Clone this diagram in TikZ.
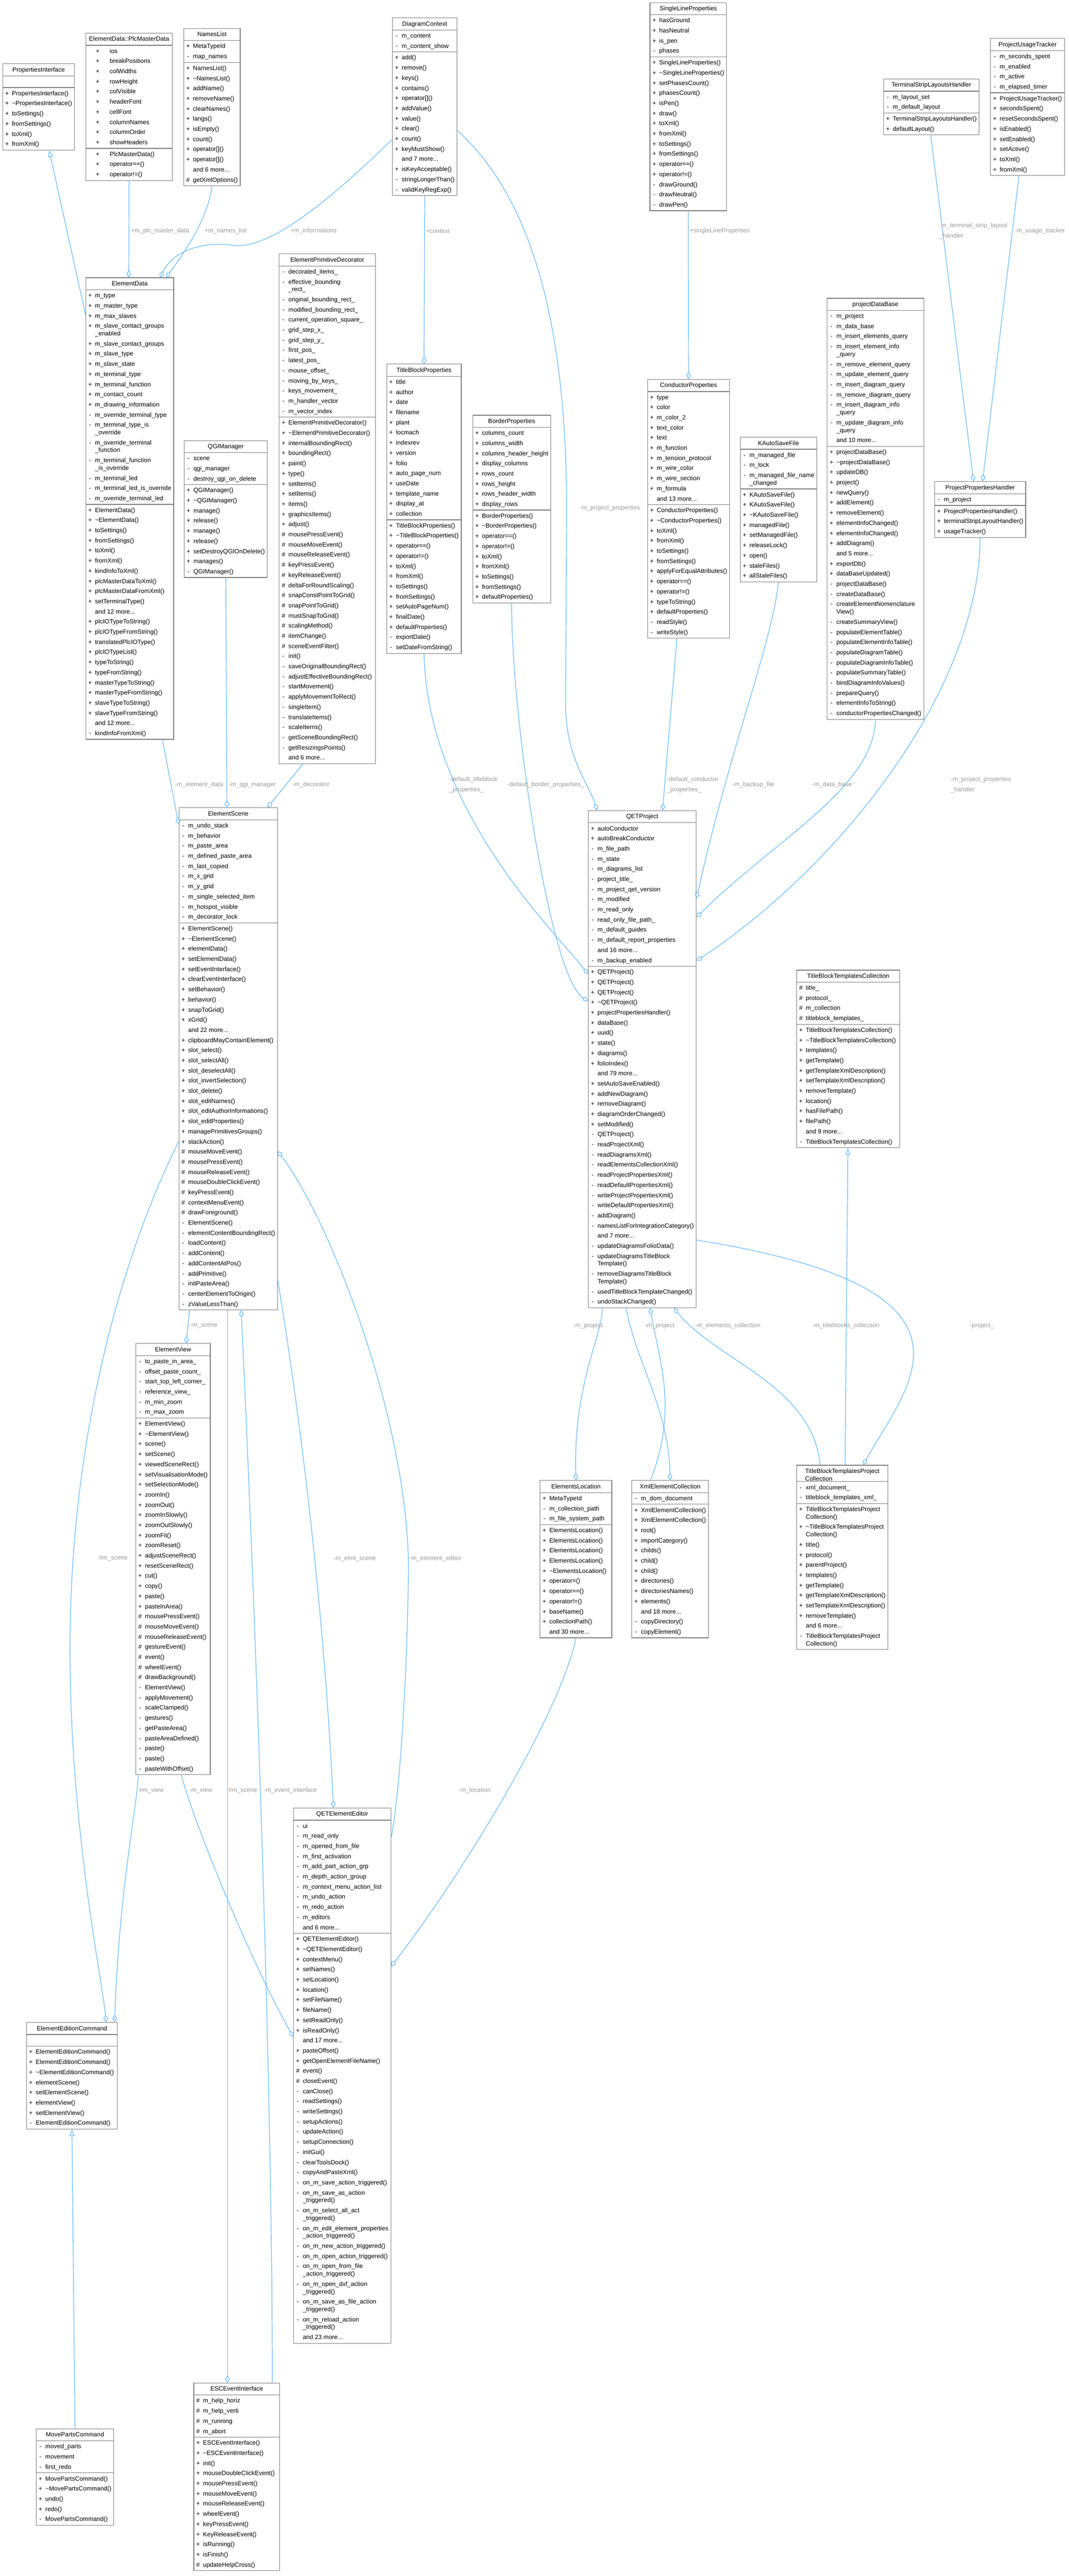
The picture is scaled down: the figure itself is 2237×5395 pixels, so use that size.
\documentclass[tikz,border=0pt]{standalone}
\usepackage{fontspec}
\setmainfont{Liberation Sans}
\usetikzlibrary{shapes.multipart,arrows.meta,positioning}
\definecolor{edgeblue}{HTML}{63B8FF}
\definecolor{framegray}{HTML}{7F7F7F}
\definecolor{labelgray}{HTML}{9A9A9A}
\definecolor{focusgray}{HTML}{999999}
\newcommand{\rowstrut}{\rule[-6.5pt]{0pt}{21.25pt}}
\newcommand{\headstrut}{\rule[-7pt]{0pt}{22pt}}
\newcommand{\mbr}[2]{\makebox[14.3pt][l]{\makebox[8pt][c]{#1}}#2\rowstrut}
\newcommand{\pub}[1]{\mbr{+}{#1}}
\newcommand{\pri}[1]{\mbr{-}{#1}}
\newcommand{\pro}[1]{\mbr{\#}{#1}}
\newcommand{\more}[1]{\mbr{}{and #1 more...}}
\newcommand{\wrap}[1]{\\[-5.35pt]\mbr{}{#1}}
\newcommand{\wpub}[1]{\hspace*{16pt}\makebox[29pt][l]{+}#1\rowstrut}
\newcommand{\tl}{\textasciitilde}
\tikzset{
  classbox/.style={
    rectangle split, rectangle split parts=3,
    rectangle split part align={center,left,left},
    draw=framegray, line width=1.3pt, fill=white,
    align=left, inner xsep=5pt, inner ysep=1pt,
    anchor=north west,
    font=\fontsize{13}{21.25}\selectfont},
  focusbox/.style={classbox, rectangle split part fill={focusgray,white,white}},
  aggr/.style={draw=edgeblue, line width=1.3pt,
    {Diamond[open,length=15pt,width=10pt]}-},
  inherit/.style={draw=edgeblue, line width=1.3pt,
    -{Triangle[open,length=14pt,width=10pt]}},
  elabel/.style={text=labelgray, anchor=west, inner sep=0pt,
    font=\fontsize{13}{21.25}\selectfont, align=left},
}
\begin{document}
\begin{tikzpicture}[x=1pt,y=-1pt]
\useasboundingbox (0,0) rectangle (2237,5395);

% first rank
\node[classbox,minimum width=150pt] (pi) at (5,133) {\headstrut PropertiesInterface
  \nodepart{two}\rowstrut
  \nodepart{three}\pub{PropertiesInterface()}\\\pub{\tl PropertiesInterface()}\\\pub{toSettings()}\\\pub{fromSettings()}\\\pub{toXml()}\\\pub{fromXml()}};
\node[classbox,minimum width=181pt] (pmd) at (179,69) {\headstrut ElementData::PlcMasterData
  \nodepart{two}\wpub{ios}\\\wpub{breakPositions}\\\wpub{colWidths}\\\wpub{rowHeight}\\\wpub{colVisible}\\\wpub{headerFont}\\\wpub{cellFont}\\\wpub{columnNames}\\\wpub{columnOrder}\\\wpub{showHeaders}
  \nodepart{three}\wpub{PlcMasterData()}\\\wpub{operator==()}\\\wpub{operator!=()}};
\node[classbox,minimum width=118pt] (nl) at (384,59) {\headstrut NamesList
  \nodepart{two}\pub{MetaTypeId}\\\pri{map\_names}
  \nodepart{three}\pub{NamesList()}\\\pub{\tl NamesList()}\\\pub{addName()}\\\pub{removeName()}\\\pub{clearNames()}\\\pub{langs()}\\\pub{isEmpty()}\\\pub{count()}\\\pub{operator[]()}\\\pub{operator[]()}\\\more{6}\\\pro{getXmlOptions()}};
\node[classbox,minimum width=132pt] (dc) at (821,37) {\headstrut DiagramContext
  \nodepart{two}\pri{m\_content}\\\pri{m\_content\_show}
  \nodepart{three}\pub{add()}\\\pub{remove()}\\\pub{keys()}\\\pub{contains()}\\\pub{operator[]()}\\\pub{addValue()}\\\pub{value()}\\\pub{clear()}\\\pub{count()}\\\pub{keyMustShow()}\\\more{7}\\\pub{isKeyAcceptable()}\\\pri{stringLongerThan()}\\\pri{validKeyRegExp()}};
\node[classbox,minimum width=160pt] (slp) at (1360,5) {\headstrut SingleLineProperties
  \nodepart{two}\pub{hasGround}\\\pub{hasNeutral}\\\pub{is\_pen}\\\pri{phases}
  \nodepart{three}\pub{SingleLineProperties()}\\\pub{\tl SingleLineProperties()}\\\pub{setPhasesCount()}\\\pub{phasesCount()}\\\pub{isPen()}\\\pub{draw()}\\\pub{toXml()}\\\pub{fromXml()}\\\pub{toSettings()}\\\pub{fromSettings()}\\\pub{operator==()}\\\pub{operator!=()}\\\pri{drawGround()}\\\pri{drawNeutral()}\\\pri{drawPen()}};
\node[classbox,minimum width=199pt] (tslh) at (1849,165) {\headstrut TerminalStripLayoutsHandler
  \nodepart{two}\pri{m\_layout\_set}\\\pri{m\_default\_layout}
  \nodepart{three}\pub{TerminalStripLayoutsHandler()}\\\pub{defaultLayout()}};
\node[classbox,minimum width=155pt] (put) at (2073,80) {\headstrut ProjectUsageTracker
  \nodepart{two}\pri{m\_seconds\_spent}\\\pri{m\_enabled}\\\pri{m\_active}\\\pri{m\_elapsed\_timer}
  \nodepart{three}\pub{ProjectUsageTracker()}\\\pub{secondsSpent()}\\\pub{resetSecondsSpent()}\\\pub{isEnabled()}\\\pub{setEnabled()}\\\pub{setActive()}\\\pub{toXml()}\\\pub{fromXml()}};

% second rank
\node[classbox,minimum width=182pt] (ed) at (179,581) {\headstrut ElementData
  \nodepart{two}\pub{m\_type}\\\pub{m\_master\_type}\\\pub{m\_max\_slaves}\\\pub{m\_slave\_contact\_groups}\wrap{\_enabled}\\\pub{m\_slave\_contact\_groups}\\\pub{m\_slave\_type}\\\pub{m\_slave\_state}\\\pub{m\_terminal\_type}\\\pub{m\_terminal\_function}\\\pub{m\_contact\_count}\\\pub{m\_drawing\_information}\\\pri{m\_override\_terminal\_type}\\\pri{m\_terminal\_type\_is}\wrap{\_override}\\\pri{m\_override\_terminal}\wrap{\_function}\\\pri{m\_terminal\_function}\wrap{\_is\_override}\\\pri{m\_terminal\_led}\\\pri{m\_terminal\_led\_is\_override}\\\pri{m\_override\_terminal\_led}
  \nodepart{three}\pub{ElementData()}\\\pub{\tl ElementData()}\\\pub{toSettings()}\\\pub{fromSettings()}\\\pub{toXml()}\\\pub{fromXml()}\\\pub{kindInfoToXml()}\\\pub{plcMasterDataToXml()}\\\pub{plcMasterDataFromXml()}\\\pub{setTerminalType()}\\\more{12}\\\pub{plcIOTypeToString()}\\\pub{plcIOTypeFromString()}\\\pub{translatedPlcIOType()}\\\pub{plcIOTypeList()}\\\pub{typeToString()}\\\pub{typeFromString()}\\\pub{masterTypeToString()}\\\pub{masterTypeFromString()}\\\pub{slaveTypeToString()}\\\pub{slaveTypeFromString()}\\\more{12}\\\pri{kindInfoFromXml()}};
\node[classbox,minimum width=201pt] (epd) at (584,531) {\headstrut ElementPrimitiveDecorator
  \nodepart{two}\pri{decorated\_items\_}\\\pri{effective\_bounding}\wrap{\_rect\_}\\\pri{original\_bounding\_rect\_}\\\pri{modified\_bounding\_rect\_}\\\pri{current\_operation\_square\_}\\\pri{grid\_step\_x\_}\\\pri{grid\_step\_y\_}\\\pri{first\_pos\_}\\\pri{latest\_pos\_}\\\pri{mouse\_offset\_}\\\pri{moving\_by\_keys\_}\\\pri{keys\_movement\_}\\\pri{m\_handler\_vector}\\\pri{m\_vector\_index}
  \nodepart{three}\pub{ElementPrimitiveDecorator()}\\\pub{\tl ElementPrimitiveDecorator()}\\\pub{internalBoundingRect()}\\\pub{boundingRect()}\\\pub{paint()}\\\pub{type()}\\\pub{setItems()}\\\pub{setItems()}\\\pub{items()}\\\pub{graphicsItems()}\\\pub{adjust()}\\\pro{mousePressEvent()}\\\pro{mouseMoveEvent()}\\\pro{mouseReleaseEvent()}\\\pro{keyPressEvent()}\\\pro{keyReleaseEvent()}\\\pro{deltaForRoundScaling()}\\\pro{snapConstPointToGrid()}\\\pro{snapPointToGrid()}\\\pro{mustSnapToGrid()}\\\pro{scalingMethod()}\\\pro{itemChange()}\\\pro{sceneEventFilter()}\\\pri{init()}\\\pri{saveOriginalBoundingRect()}\\\pri{adjustEffectiveBoundingRect()}\\\pri{startMovement()}\\\pri{applyMovementToRect()}\\\pri{singleItem()}\\\pri{translateItems()}\\\pri{scaleItems()}\\\pri{getSceneBoundingRect()}\\\pri{getResizingsPoints()}\\\more{6}};
\node[classbox,minimum width=174pt] (qgim) at (385,922) {\headstrut QGIManager
  \nodepart{two}\pri{scene}\\\pri{qgi\_manager}\\\pri{destroy\_qgi\_on\_delete}
  \nodepart{three}\pub{QGIManager()}\\\pub{\tl QGIManager()}\\\pub{manage()}\\\pub{release()}\\\pub{manage()}\\\pub{release()}\\\pub{setDestroyQGIOnDelete()}\\\pub{manages()}\\\pri{QGIManager()}};
\node[classbox,minimum width=156pt] (tbp) at (809,762) {\headstrut TitleBlockProperties
  \nodepart{two}\pub{title}\\\pub{author}\\\pub{date}\\\pub{filename}\\\pub{plant}\\\pub{locmach}\\\pub{indexrev}\\\pub{version}\\\pub{folio}\\\pub{auto\_page\_num}\\\pub{useDate}\\\pub{template\_name}\\\pub{display\_at}\\\pub{collection}
  \nodepart{three}\pub{TitleBlockProperties()}\\\pub{\tl TitleBlockProperties()}\\\pub{operator==()}\\\pub{operator!=()}\\\pub{toXml()}\\\pub{fromXml()}\\\pub{toSettings()}\\\pub{fromSettings()}\\\pub{setAutoPageNum()}\\\pub{finalDate()}\\\pub{defaultProperties()}\\\pri{exportDate()}\\\pri{setDateFromString()}};
\node[classbox,minimum width=161pt] (bp) at (989,869) {\headstrut BorderProperties
  \nodepart{two}\pub{columns\_count}\\\pub{columns\_width}\\\pub{columns\_header\_height}\\\pub{display\_columns}\\\pub{rows\_count}\\\pub{rows\_height}\\\pub{rows\_header\_width}\\\pub{display\_rows}
  \nodepart{three}\pub{BorderProperties()}\\\pub{\tl BorderProperties()}\\\pub{operator==()}\\\pub{operator!=()}\\\pub{toXml()}\\\pub{fromXml()}\\\pub{toSettings()}\\\pub{fromSettings()}\\\pub{defaultProperties()}};
\node[classbox,minimum width=171pt] (cp) at (1355,794) {\headstrut ConductorProperties
  \nodepart{two}\pub{type}\\\pub{color}\\\pub{m\_color\_2}\\\pub{text\_color}\\\pub{text}\\\pub{m\_function}\\\pub{m\_tension\_protocol}\\\pub{m\_wire\_color}\\\pub{m\_wire\_section}\\\pub{m\_formula}\\\more{13}
  \nodepart{three}\pub{ConductorProperties()}\\\pub{\tl ConductorProperties()}\\\pub{toXml()}\\\pub{fromXml()}\\\pub{toSettings()}\\\pub{fromSettings()}\\\pub{applyForEqualAttributes()}\\\pub{operator==()}\\\pub{operator!=()}\\\pub{typeToString()}\\\pub{defaultProperties()}\\\pri{readStyle()}\\\pri{writeStyle()}};
\node[classbox,minimum width=157pt] (kasf) at (1549,915) {\headstrut KAutoSaveFile
  \nodepart{two}\pri{m\_managed\_file}\\\pri{m\_lock}\\\pri{m\_managed\_file\_name}\wrap{\_changed}
  \nodepart{three}\pub{KAutoSaveFile()}\\\pub{KAutoSaveFile()}\\\pub{\tl KAutoSaveFile()}\\\pub{managedFile()}\\\pub{setManagedFile()}\\\pub{releaseLock()}\\\pub{open()}\\\pub{staleFiles()}\\\pub{allStaleFiles()}};
\node[classbox,minimum width=200pt] (pdb) at (1731,624) {\headstrut projectDataBase
  \nodepart{two}\pri{m\_project}\\\pri{m\_data\_base}\\\pri{m\_insert\_elements\_query}\\\pri{m\_insert\_element\_info}\wrap{\_query}\\\pri{m\_remove\_element\_query}\\\pri{m\_update\_element\_query}\\\pri{m\_insert\_diagram\_query}\\\pri{m\_remove\_diagram\_query}\\\pri{m\_insert\_diagram\_info}\wrap{\_query}\\\pri{m\_update\_diagram\_info}\wrap{\_query}\\\more{10}
  \nodepart{three}\pub{projectDataBase()}\\\pub{\tl projectDataBase()}\\\pub{updateDB()}\\\pub{project()}\\\pub{newQuery()}\\\pub{addElement()}\\\pub{removeElement()}\\\pub{elementInfoChanged()}\\\pub{elementInfoChanged()}\\\pub{addDiagram()}\\\more{5}\\\pub{exportDb()}\\\pub{dataBaseUpdated()}\\\pri{projectDataBase()}\\\pri{createDataBase()}\\\pri{createElementNomenclature}\wrap{View()}\\\pri{createSummaryView()}\\\pri{populateElementTable()}\\\pri{populateElementInfoTable()}\\\pri{populateDiagramTable()}\\\pri{populateDiagramInfoTable()}\\\pri{populateSummaryTable()}\\\pri{bindDiagramInfoValues()}\\\pri{prepareQuery()}\\\pri{elementInfoToString()}\\\pri{conductorPropertiesChanged()}};
\node[classbox,minimum width=189pt] (pph) at (1956,1008) {\headstrut ProjectPropertiesHandler
  \nodepart{two}\pri{m\_project}
  \nodepart{three}\pub{ProjectPropertiesHandler()}\\\pub{terminalStripLayoutHandler()}\\\pub{usageTracker()}};

% third rank
\node[classbox,minimum width=223pt] (qp) at (1231,1697) {\headstrut QETProject
  \nodepart{two}\pub{autoConductor}\\\pub{autoBreakConductor}\\\pri{m\_file\_path}\\\pri{m\_state}\\\pri{m\_diagrams\_list}\\\pri{project\_title\_}\\\pri{m\_project\_qet\_version}\\\pri{m\_modified}\\\pri{m\_read\_only}\\\pri{read\_only\_file\_path\_}\\\pri{m\_default\_guides}\\\pri{m\_default\_report\_properties}\\\more{16}\\\pri{m\_backup\_enabled}
  \nodepart{three}\pub{QETProject()}\\\pub{QETProject()}\\\pub{QETProject()}\\\pub{\tl QETProject()}\\\pub{projectPropertiesHandler()}\\\pub{dataBase()}\\\pub{uuid()}\\\pub{state()}\\\pub{diagrams()}\\\pub{folioIndex()}\\\more{79}\\\pub{setAutoSaveEnabled()}\\\pub{addNewDiagram()}\\\pub{removeDiagram()}\\\pub{diagramOrderChanged()}\\\pub{setModified()}\\\pri{QETProject()}\\\pri{readProjectXml()}\\\pri{readDiagramsXml()}\\\pri{readElementsCollectionXml()}\\\pri{readProjectPropertiesXml()}\\\pri{readDefaultPropertiesXml()}\\\pri{writeProjectPropertiesXml()}\\\pri{writeDefaultPropertiesXml()}\\\pri{addDiagram()}\\\pri{namesListForIntegrationCategory()}\\\more{7}\\\pri{updateDiagramsFolioData()}\\\pri{updateDiagramsTitleBlock}\wrap{Template()}\\\pri{removeDiagramsTitleBlock}\wrap{Template()}\\\pri{usedTitleBlockTemplateChanged()}\\\pri{undoStackChanged()}};
\node[classbox,minimum width=216pt] (tbtc) at (1667,2031) {\headstrut TitleBlockTemplatesCollection
  \nodepart{two}\pro{title\_}\\\pro{protocol\_}\\\pro{m\_collection}\\\pro{titleblock\_templates\_}
  \nodepart{three}\pub{TitleBlockTemplatesCollection()}\\\pub{\tl TitleBlockTemplatesCollection()}\\\pub{templates()}\\\pub{getTemplate()}\\\pub{getTemplateXmlDescription()}\\\pub{setTemplateXmlDescription()}\\\pub{removeTemplate()}\\\pub{location()}\\\pub{hasFilePath()}\\\pub{filePath()}\\\more{9}\\\pri{TitleBlockTemplatesCollection()}};
\node[classbox,minimum width=206pt] (es) at (374,1691) {\headstrut ElementScene
  \nodepart{two}\pri{m\_undo\_stack}\\\pri{m\_behavior}\\\pri{m\_paste\_area}\\\pri{m\_defined\_paste\_area}\\\pri{m\_last\_copied}\\\pri{m\_x\_grid}\\\pri{m\_y\_grid}\\\pri{m\_single\_selected\_item}\\\pri{m\_hotspot\_visible}\\\pri{m\_decorator\_lock}
  \nodepart{three}\pub{ElementScene()}\\\pub{\tl ElementScene()}\\\pub{elementData()}\\\pub{setElementData()}\\\pub{setEventInterface()}\\\pub{clearEventInterface()}\\\pub{setBehavior()}\\\pub{behavior()}\\\pub{snapToGrid()}\\\pub{xGrid()}\\\more{22}\\\pub{clipboardMayContainElement()}\\\pub{slot\_select()}\\\pub{slot\_selectAll()}\\\pub{slot\_deselectAll()}\\\pub{slot\_invertSelection()}\\\pub{slot\_delete()}\\\pub{slot\_editNames()}\\\pub{slot\_editAuthorInformations()}\\\pub{slot\_editProperties()}\\\pub{managePrimitivesGroups()}\\\pub{stackAction()}\\\pro{mouseMoveEvent()}\\\pro{mousePressEvent()}\\\pro{mouseReleaseEvent()}\\\pro{mouseDoubleClickEvent()}\\\pro{keyPressEvent()}\\\pro{contextMenuEvent()}\\\pro{drawForeground()}\\\pri{ElementScene()}\\\pri{elementContentBoundingRect()}\\\pri{loadContent()}\\\pri{addContent()}\\\pri{addContentAtPos()}\\\pri{addPrimitive()}\\\pri{initPasteArea()}\\\pri{centerElementToOrigin()}\\\pri{zValueLessThan()}};

% fourth rank
\node[classbox,minimum width=156pt] (ev) at (283.6,2813) {\headstrut ElementView
  \nodepart{two}\pri{to\_paste\_in\_area\_}\\\pri{offset\_paste\_count\_}\\\pri{start\_top\_left\_corner\_}\\\pri{reference\_view\_}\\\pri{m\_min\_zoom}\\\pri{m\_max\_zoom}
  \nodepart{three}\pub{ElementView()}\\\pub{\tl ElementView()}\\\pub{scene()}\\\pub{setScene()}\\\pub{viewedSceneRect()}\\\pub{setVisualisationMode()}\\\pub{setSelectionMode()}\\\pub{zoomIn()}\\\pub{zoomOut()}\\\pub{zoomInSlowly()}\\\pub{zoomOutSlowly()}\\\pub{zoomFit()}\\\pub{zoomReset()}\\\pub{adjustSceneRect()}\\\pub{resetSceneRect()}\\\pub{cut()}\\\pub{copy()}\\\pub{paste()}\\\pub{pasteInArea()}\\\pro{mousePressEvent()}\\\pro{mouseMoveEvent()}\\\pro{mouseReleaseEvent()}\\\pro{gestureEvent()}\\\pro{event()}\\\pro{wheelEvent()}\\\pro{drawBackground()}\\\pri{ElementView()}\\\pri{applyMovement()}\\\pri{scaleClamped()}\\\pri{gestures()}\\\pri{getPasteArea()}\\\pri{pasteAreaDefined()}\\\pri{paste()}\\\pri{paste()}\\\pri{pasteWithOffset()}};
\node[classbox,minimum width=150pt] (el) at (1130,3100) {\headstrut ElementsLocation
  \nodepart{two}\pub{MetaTypeId}\\\pri{m\_collection\_path}\\\pri{m\_file\_system\_path}
  \nodepart{three}\pub{ElementsLocation()}\\\pub{ElementsLocation()}\\\pub{ElementsLocation()}\\\pub{ElementsLocation()}\\\pub{\tl ElementsLocation()}\\\pub{operator=()}\\\pub{operator==()}\\\pub{operator!=()}\\\pub{baseName()}\\\pub{collectionPath()}\\\more{30}};
\node[classbox,minimum width=150pt] (xec) at (1322,3100) {\headstrut XmlElementCollection
  \nodepart{two}\pri{m\_dom\_document}
  \nodepart{three}\pub{XmlElementCollection()}\\\pub{XmlElementCollection()}\\\pub{root()}\\\pub{importCategory()}\\\pub{childs()}\\\pub{child()}\\\pub{child()}\\\pub{directories()}\\\pub{directoriesNames()}\\\pub{elements()}\\\more{18}\\\pri{copyDirectory()}\\\pri{copyElement()}};
\node[classbox,minimum width=180pt] (tbtpc) at (1667,3068) {\headstrut TitleBlockTemplatesProject\\[-5.35pt]Collection
  \nodepart{two}\pri{xml\_document\_}\\\pri{titleblock\_templates\_xml\_}
  \nodepart{three}\pub{TitleBlockTemplatesProject}\wrap{Collection()}\\\pub{\tl TitleBlockTemplatesProject}\wrap{Collection()}\\\pub{title()}\\\pub{protocol()}\\\pub{parentProject()}\\\pub{templates()}\\\pub{getTemplate()}\\\pub{getTemplateXmlDescription()}\\\pub{setTemplateXmlDescription()}\\\pub{removeTemplate()}\\\more{6}\\\pri{TitleBlockTemplatesProject}\wrap{Collection()}};

% fifth rank
\node[classbox,minimum width=201pt] (qee) at (614,3786) {\headstrut QETElementEditor
  \nodepart{two}\pri{ui}\\\pri{m\_read\_only}\\\pri{m\_opened\_from\_file}\\\pri{m\_first\_activation}\\\pri{m\_add\_part\_action\_grp}\\\pri{m\_depth\_action\_group}\\\pri{m\_context\_menu\_action\_list}\\\pri{m\_undo\_action}\\\pri{m\_redo\_action}\\\pri{m\_editors}\\\more{6}
  \nodepart{three}\pub{QETElementEditor()}\\\pub{\tl QETElementEditor()}\\\pub{contextMenu()}\\\pub{setNames()}\\\pub{setLocation()}\\\pub{location()}\\\pub{setFileName()}\\\pub{fileName()}\\\pub{setReadOnly()}\\\pub{isReadOnly()}\\\more{17}\\\pub{pasteOffset()}\\\pub{getOpenElementFileName()}\\\pro{event()}\\\pro{closeEvent()}\\\pri{canClose()}\\\pri{readSettings()}\\\pri{writeSettings()}\\\pri{setupActions()}\\\pri{updateAction()}\\\pri{setupConnection()}\\\pri{initGui()}\\\pri{clearToolsDock()}\\\pri{copyAndPasteXml()}\\\pri{on\_m\_save\_action\_triggered()}\\\pri{on\_m\_save\_as\_action}\wrap{\_triggered()}\\\pri{on\_m\_select\_all\_act}\wrap{\_triggered()}\\\pri{on\_m\_edit\_element\_properties}\wrap{\_action\_triggered()}\\\pri{on\_m\_new\_action\_triggered()}\\\pri{on\_m\_open\_action\_triggered()}\\\pri{on\_m\_open\_from\_file}\wrap{\_action\_triggered()}\\\pri{on\_m\_open\_dxf\_action}\wrap{\_triggered()}\\\pri{on\_m\_save\_as\_file\_action}\wrap{\_triggered()}\\\pri{on\_m\_reload\_action}\wrap{\_triggered()}\\\more{23}};
\node[classbox,minimum width=190pt] (eec) at (55,4235) {\headstrut ElementEditionCommand
  \nodepart{two}\rowstrut
  \nodepart{three}\pub{ElementEditionCommand()}\\\pub{ElementEditionCommand()}\\\pub{\tl ElementEditionCommand()}\\\pub{elementScene()}\\\pub{setElementScene()}\\\pub{elementView()}\\\pub{setElementView()}\\\pri{ElementEditionCommand()}};

% sixth rank
\node[classbox,minimum width=180pt] (esc) at (405,4990) {\headstrut ESCEventInterface
  \nodepart{two}\pro{m\_help\_horiz}\\\pro{m\_help\_verti}\\\pro{m\_running}\\\pro{m\_abort}
  \nodepart{three}\pub{ESCEventInterface()}\\\pub{\tl ESCEventInterface()}\\\pub{init()}\\\pub{mouseDoubleClickEvent()}\\\pub{mousePressEvent()}\\\pub{mouseMoveEvent()}\\\pub{mouseReleaseEvent()}\\\pub{wheelEvent()}\\\pub{keyPressEvent()}\\\pub{KeyReleaseEvent()}\\\pub{isRunning()}\\\pub{isFinish()}\\\pro{updateHelpCross()}};
\node[focusbox,minimum width=130pt] (mpc) at (75,5086) {\headstrut MovePartsCommand
  \nodepart{two}\pri{moved\_parts}\\\pri{movement}\\\pri{first\_redo}
  \nodepart{three}\pub{MovePartsCommand()}\\\pub{\tl MovePartsCommand()}\\\pub{undo()}\\\pub{redo()}\\\pri{MovePartsCommand()}};

% connectors, first to second rank
\draw[inherit] ([yshift=-78pt]ed.north west) -- ([xshift=98pt]pi.south west);
\draw[aggr] ([xshift=90.5pt]ed.north west) -- (pmd.south);
\draw[aggr] ([xshift=169pt]ed.north west) .. controls (385,530) and (435,460) .. (nl.south);
\draw[aggr] ([xshift=156pt]ed.north west) .. controls (365,522) and (430,505) .. (490,514)
  .. controls (580,524) and (740,370) .. ([yshift=-255pt]dc.north west);
\draw[aggr] (tbp.north) -- (dc.south);
\draw[aggr] (cp.north) -- (slp.south);
\draw[aggr] ([xshift=82pt]pph.north west) -- ([xshift=99.5pt]tslh.south west);
\draw[aggr] ([xshift=101pt]pph.north west) -- ([xshift=60pt]put.south west);
\node[elabel] (l1) at (274,484) {+m\_plc\_master\_data};
\node[elabel] (l2) at (428,484) {+m\_names\_list};
\node[elabel] (l3) at (608,484) {+m\_informations};
\node[elabel] (l4) at (892,484) {+context};
\node[elabel] (l5) at (1444,484) {+singleLineProperties};
\node[elabel] (l6) at (1966,484) {-m\_terminal\_strip\_layout\\\_handler};
\node[elabel] (l7) at (2124,484) {-m\_usage\_tracker};

% second to third rank
\draw[aggr] ([xshift=19pt]qp.north west) .. controls (1232,1640) and (1186,1590) .. (1184,1480)
  -- (1186,1100) .. controls (1190,700) and (1120,420) .. ([yshift=-236pt]dc.north east);
\draw[aggr] ([xshift=156pt]qp.north west) -- ([xshift=62pt]cp.south west);
\draw[aggr] ([yshift=-343pt]qp.north west) .. controls (1170,1960) and (895,1700) .. (tbp.south);
\draw[aggr] ([yshift=-400pt]qp.north west) .. controls (1150,2040) and (1070,1500) .. (bp.south);
\draw[aggr] ([yshift=-184pt]qp.north east) .. controls (1530,1560) and (1615,1350) .. (kasf.south);
\draw[aggr] ([yshift=-224pt]qp.north east) .. controls (1620,1760) and (1830,1650) .. (pdb.south);
\draw[aggr] ([yshift=-315pt]qp.north east) .. controls (1750,1820) and (2050,1450) .. (pph.south);
\draw[aggr] ([yshift=-35pt]es.north west) -- ([xshift=161pt]ed.south west);
\draw[aggr] ([xshift=101pt]es.north west) -- (qgim.south);
\draw[aggr] ([xshift=186pt]es.north west) -- ([xshift=50pt]epd.south west);
\node[elabel] (l8) at (1213,1064) {-m\_project\_properties};
\node[elabel] (l9) at (1396,1644) {-default\_conductor\\\_properties\_};
\node[elabel] (l10) at (940,1644) {-default\_titleblock\\\_properties\_};
\node[elabel] (l11) at (1062,1644) {-default\_border\_properties\_};
\node[elabel] (l12) at (1533,1644) {-m\_backup\_file};
\node[elabel] (l13) at (1700,1644) {-m\_data\_base};
\node[elabel] (l14) at (1990,1644) {-m\_project\_properties\\\_handler};
\node[elabel] (l15) at (366,1644) {-m\_element\_data};
\node[elabel] (l16) at (479,1644) {-m\_qgi\_manager};
\node[elabel] (l17) at (612,1644) {-m\_decorator};

% third to fourth rank
\draw[aggr] ([xshift=106.4pt]ev.north west) -- ([xshift=22.6pt]es.south west);
\draw[aggr] (el.north) .. controls (1200,2900) and (1260,2800) .. ([xshift=30pt]qp.south west);
\draw[aggr] (xec.north) .. controls (1400,2950) and (1330,2850) .. ([xshift=80pt]qp.south west);
\draw[aggr] ([xshift=130pt]qp.south west) .. controls (1380,2850) and (1420,2950) .. ([xshift=40pt]xec.north west);
\draw[aggr] ([xshift=180pt]qp.south west) .. controls (1500,2850) and (1700,2900) .. ([xshift=50pt]tbtpc.north west);
\draw[aggr] ([xshift=140pt]tbtpc.north west) .. controls (1900,2900) and (2100,2700) .. ([yshift=-900pt]qp.north east);
\draw[inherit] ([xshift=102pt]tbtpc.north west) -- ([xshift=108pt]tbtc.south west);
\node[elabel] (l18) at (398,2777) {-m\_scene};
\node[elabel] (l19) at (1200,2777) {-m\_project};
\node[elabel] (l20) at (1350,2777) {-m\_project};
\node[elabel] (l21) at (1455,2777) {-m\_elements\_collection};
\node[elabel] (l22) at (1700,2777) {-m\_titleblocks\_collection};
\node[elabel] (l23) at (2030,2777) {-project\_};

% fourth to sixth rank
\draw[aggr] ([xshift=167pt]eec.north west) .. controls (215,4150) and (140,3800) .. (147,3400)
  .. controls (155,3000) and (250,2640) .. ([yshift=-700pt]es.north west);
\draw[aggr] ([xshift=84pt]qee.north west) .. controls (685,3500) and (650,3100) .. ([yshift=-991pt]es.north east);
\draw[aggr] ([yshift=-720pt]es.north east) .. controls (700,2570) and (860,3000) .. (855,3300)
  .. controls (850,3600) and (830,3800) .. ([yshift=-62pt]qee.north east);
\draw[aggr] ([xshift=185pt]eec.north west) .. controls (250,3950) and (285,3800) .. ([xshift=6pt]ev.south west);
\draw[aggr] ([yshift=-480pt]qee.north west) .. controls (520,4100) and (400,3800) .. ([xshift=96pt]ev.south west);
\draw[aggr] ([xshift=71pt]esc.north west) -- ([xshift=102pt]es.south west);
\draw[aggr] ([xshift=131pt]es.south west) .. controls (540,3500) and (570,4400) .. ([xshift=165pt]esc.north west);
\draw[aggr] ([yshift=-332pt]qee.north east) .. controls (950,3950) and (1170,3600) .. (el.south);
\draw[inherit] (mpc.north) -- (eec.south);
\node[elabel] (l24) at (207,3264) {\#m\_scene};
\node[elabel] (l25) at (698,3264) {-m\_elmt\_scene};
\node[elabel] (l26) at (857,3264) {-m\_element\_editor};
\node[elabel] (l27) at (291,3750) {\#m\_view};
\node[elabel] (l28) at (396,3750) {-m\_view};
\node[elabel] (l29) at (478,3750) {\#m\_scene};
\node[elabel] (l30) at (552,3750) {-m\_event\_interface};
\node[elabel] (l31) at (960,3750) {-m\_location};
\end{tikzpicture}
\end{document}
